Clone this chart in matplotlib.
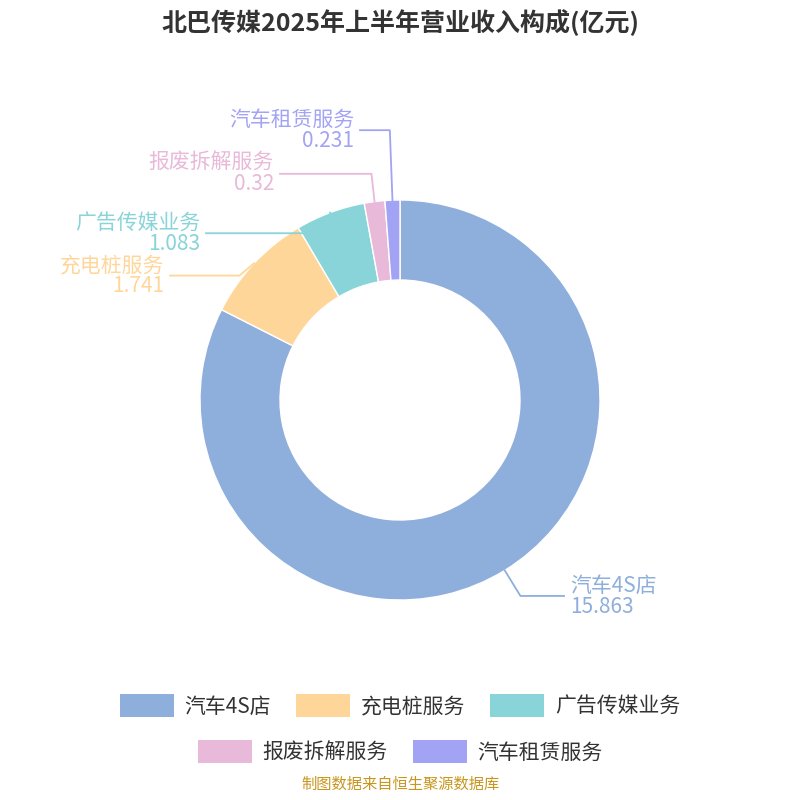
import numpy as np
import matplotlib.pyplot as plt
from matplotlib.patches import Patch

plt.rcParams['font.family'] = ['Noto Sans CJK SC', 'DejaVu Sans']

names = ['汽车4S店', '充电桩服务', '广告传媒业务', '报废拆解服务', '汽车租赁服务']
values = [15.863, 1.741, 1.083, 0.32, 0.231]
labels = ['15.863', '1.741', '1.083', '0.32', '0.231']
colors = ['#8eaedb', '#ffd699', '#88d4d8', '#e8b9d8', '#a3a3f5']

fig = plt.figure(figsize=(8, 8), dpi=100)
ax = fig.add_axes([0, 0, 1, 1])

wedges, _ = ax.pie(values, colors=colors, startangle=90, counterclock=False,
                   radius=1, wedgeprops=dict(width=0.4, edgecolor='white', linewidth=1))
ax.set_xlim(-2, 2)
ax.set_ylim(-2, 2)
ax.set_aspect('equal')
ax.axis('off')

# leader line layout: (elbow radius, text x, elbow y shift)
layout = [(1.15, 0.82, 0), (1.1, -1.15, -0.13), (1.05, -0.97, -0.15), (1.12, -0.6, 0.02), (1.35, -0.2, 0.0)]
for w, name, lab, c, (re, tx, dy) in zip(wedges, names, labels, colors, layout):
    ang = np.deg2rad((w.theta1 + w.theta2) / 2)
    x0, y0 = np.cos(ang), np.sin(ang)
    ex, ey = re * x0, re * y0 + dy
    ax.plot([x0, ex, tx], [y0, ey, ey], color=c, lw=1.3)
    ha = 'left' if tx > 0 else 'right'
    off = 0.03 if tx > 0 else -0.03
    ax.text(tx + off, ey, name + '\n' + lab, ha=ha, va='center', color=c,
            fontsize=15, linespacing=0.95)

fig.text(0.5, 0.972, '北巴传媒2025年上半年营业收入构成(亿元)', ha='center', va='center',
         fontsize=18, fontweight='bold', color='#333333')

h = [Patch(facecolor=c, edgecolor='none') for c in colors]
kw = dict(frameon=False, fontsize=15, handlelength=2.6, handleheight=1.3,
          columnspacing=1.2, handletextpad=0.5, labelcolor='#333333')
fig.legend(h[:3], names[:3], ncol=3, loc='center', bbox_to_anchor=(0.5, 0.118), **kw)
fig.legend(h[3:], names[3:], ncol=2, loc='center', bbox_to_anchor=(0.5, 0.06), **kw)

fig.text(0.5, 0.02, '制图数据来自恒生聚源数据库', ha='center', va='center',
         fontsize=11, color='#c8961e')

fig.savefig('out.png', dpi=100)
